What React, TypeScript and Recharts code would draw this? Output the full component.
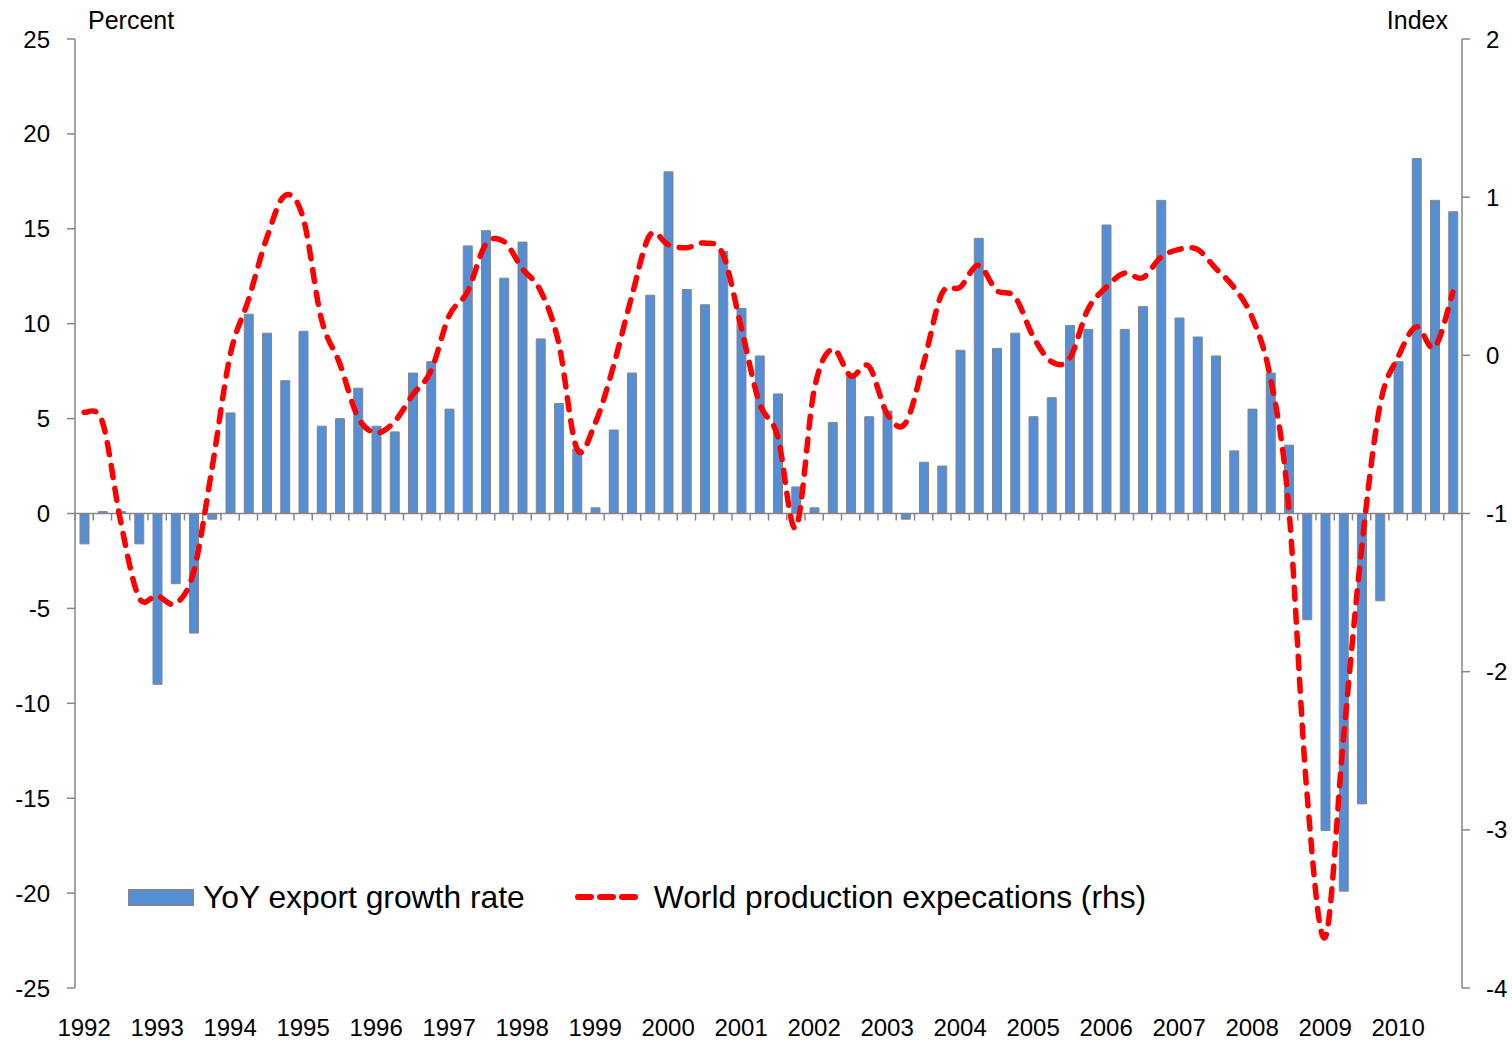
import React from 'react';
import { ComposedChart, Bar, Line, XAxis, YAxis, ReferenceLine, Legend } from 'recharts';

const years = ['1992','1993','1994','1995','1996','1997','1998','1999','2000','2001','2002','2003','2004','2005','2006','2007','2008','2009','2010'];
const quarterNames = ['Q1', 'Q2', 'Q3', 'Q4'];

const exportGrowth = [
  -1.6, 0.1, 0.1, -1.6,
  -9.0, -3.7, -6.3, -0.3,
  5.3, 10.5, 9.5, 7.0,
  9.6, 4.6, 5.0, 6.6,
  4.6, 4.3, 7.4, 8.0,
  5.5, 14.1, 14.9, 12.4,
  14.3, 9.2, 5.8, 3.4,
  0.3, 4.4, 7.4, 11.5,
  18.0, 11.8, 11.0, 13.8,
  10.8, 8.3, 6.3, 1.4,
  0.3, 4.8, 7.2, 5.1,
  5.4, -0.3, 2.7, 2.5,
  8.6, 14.5, 8.7, 9.5,
  5.1, 6.1, 9.9, 9.7,
  15.2, 9.7, 10.9, 16.5,
  10.3, 9.3, 8.3, 3.3,
  5.5, 7.4, 3.6, -5.6,
  -16.7, -19.9, -15.3, -4.6,
  8.0, 18.7, 16.5, 15.9,
];

const worldProduction = [
  -0.36, -0.42, -1.05, -1.53,
  -1.52, -1.57, -1.37, -0.72,
  0.0, 0.35, 0.74, 1.01,
  0.87, 0.23, -0.05, -0.39,
  -0.49, -0.42, -0.25, -0.10,
  0.25, 0.40, 0.70, 0.72,
  0.55, 0.41, 0.08, -0.59,
  -0.43, -0.07, 0.37, 0.76,
  0.70, 0.68, 0.71, 0.64,
  0.18, -0.30, -0.51, -1.09,
  -0.22, 0.04, -0.13, -0.07,
  -0.37, -0.43, -0.05, 0.39,
  0.43, 0.57, 0.41, 0.37,
  0.12, -0.04, -0.02, 0.29,
  0.43, 0.52, 0.49, 0.62,
  0.67, 0.67, 0.55, 0.43,
  0.24, -0.14, -0.95, -2.76,
  -3.68, -2.43, -1.22, -0.32,
  -0.01, 0.18, 0.05, 0.40,
];

const leftTicks = [-25, -20, -15, -10, -5, 0, 5, 10, 15, 20, 25];
const rightTicks = [-4, -3, -2, -1, 0, 1, 2];

const categories: { year: string; q: string }[] = [];
years.forEach((y) => quarterNames.forEach((q) => categories.push({ year: y, q })));

const data = categories.map((c, i) => ({
  label: `${c.year} ${c.q}`,
  year: c.year,
  q: c.q,
  exports: exportGrowth[i],
  wpe: worldProduction[i],
}));

const FONT = '"Liberation Sans", Arial, Helvetica, sans-serif';
const BLUE = '#558ED5';
const GRAY = '#868686';
const RED = '#FF0000';

// Excel-like smoothed line (Catmull-Rom bezier)
function excelSmooth(context: any) {
  let pts: number[][] = [];
  return {
    areaStart() {},
    areaEnd() {},
    lineStart() { pts = []; },
    point(x: number, y: number) { pts.push([+x, +y]); },
    lineEnd() {
      const n = pts.length;
      if (!n) return;
      context.moveTo(pts[0][0], pts[0][1]);
      const t = 1 / 6;
      for (let i = 0; i < n - 1; i++) {
        const p0 = pts[i - 1] || pts[i];
        const p1 = pts[i];
        const p2 = pts[i + 1];
        const p3 = pts[i + 2] || p2;
        context.bezierCurveTo(
          p1[0] + (p2[0] - p0[0]) * t,
          p1[1] + (p2[1] - p0[1]) * t,
          p2[0] - (p3[0] - p1[0]) * t,
          p2[1] - (p3[1] - p1[1]) * t,
          p2[0],
          p2[1]
        );
      }
    },
  };
}

const ZeroAxis = (props: any) => {
  const { x1, y1, x2, y2 } = props;
  const n = data.length;
  const step = (x2 - x1) / n;
  const ticks = [];
  for (let k = 0; k <= n; k++) {
    const x = x1 + k * step;
    ticks.push(<line key={k} x1={x} x2={x} y1={y1} y2={y1 + 7} stroke={GRAY} strokeWidth={1.5} />);
  }
  return (
    <g>
      <line x1={x1} y1={y1} x2={x2} y2={y2} stroke={GRAY} strokeWidth={1.5} />
      {ticks}
    </g>
  );
};

const LegendContent = () => (
  <div style={{ display: 'flex', alignItems: 'center', fontFamily: FONT, fontSize: 31.8, color: '#000', whiteSpace: 'nowrap', height: 34 }}>
    <svg width={66} height={17} style={{ display: 'block' }}>
      <rect x={0.75} y={0.75} width={64.5} height={15.5} fill={BLUE} stroke={GRAY} strokeWidth={1.5} />
    </svg>
    <span style={{ marginLeft: 9 }}>YoY export growth rate</span>
    <svg width={66} height={10} style={{ display: 'block', marginLeft: 49 }}>
      <line x1={4} y1={5} x2={62} y2={5} stroke={RED} strokeWidth={6} strokeDasharray="13 9" strokeLinecap="round" />
    </svg>
    <span style={{ marginLeft: 14 }}>World production expecations (rhs)</span>
  </div>
);

export default function App() {
  return (
    <div style={{ position: 'absolute', left: 0, top: 0, width: 1512, height: 1042, background: '#fff' }}>
      <div style={{ position: 'absolute', left: 88, top: 6, fontFamily: FONT, fontSize: 25, lineHeight: '28px' }}>Percent</div>
      <div style={{ position: 'absolute', right: 1512 - 1448, top: 6, fontFamily: FONT, fontSize: 25, lineHeight: '28px' }}>Index</div>
      <ComposedChart
        width={1512}
        height={1042}
        data={data}
        margin={{ top: 39, right: 0, bottom: 0, left: 0 }}
      >
        <XAxis
          dataKey="label"
          interval={0}
          axisLine={false}
          tickLine={false}
          height={54}
          tickMargin={25}
          tickFormatter={(v: string, i: number) => (data[i] && data[i].q === 'Q1' ? data[i].year : '')}
          tick={{ fill: '#000', fontSize: 24, fontFamily: FONT }}
        />
        <YAxis
          yAxisId="left"
          domain={[-25, 25]}
          ticks={leftTicks}
          interval={0}
          width={75}
          tickSize={8}
          tickMargin={17}
          axisLine={{ stroke: GRAY, strokeWidth: 1.5 }}
          tickLine={{ stroke: GRAY, strokeWidth: 1.5 }}
          tick={{ fill: '#000', fontSize: 24, fontFamily: FONT }}
          allowDataOverflow
        />
        <YAxis
          yAxisId="right"
          orientation="right"
          domain={[-4, 2]}
          ticks={rightTicks}
          interval={0}
          width={50}
          tickSize={8}
          tickMargin={16}
          axisLine={{ stroke: GRAY, strokeWidth: 1.5 }}
          tickLine={{ stroke: GRAY, strokeWidth: 1.5 }}
          tick={{ fill: '#000', fontSize: 24, fontFamily: FONT }}
          allowDataOverflow
        />
        <Bar
          yAxisId="left"
          dataKey="exports"
          name="YoY export growth rate"
          fill={BLUE}
          stroke={GRAY}
          strokeWidth={1}
          barSize={9}
          isAnimationActive={false}
        />
        <ReferenceLine yAxisId="left" y={0} shape={ZeroAxis} />
        <Line
          yAxisId="right"
          dataKey="wpe"
          name="World production expecations (rhs)"
          type={excelSmooth as any}
          stroke={RED}
          strokeWidth={5.5}
          strokeDasharray="12 11"
          strokeLinecap="round"
          dot={false}
          activeDot={false}
          isAnimationActive={false}
        />
        <Legend
          verticalAlign="middle"
          layout="horizontal"
          align="center"
          content={LegendContent}
          wrapperStyle={{ top: 880, left: 128, width: 1100 }}
        />
      </ComposedChart>
    </div>
  );
}
